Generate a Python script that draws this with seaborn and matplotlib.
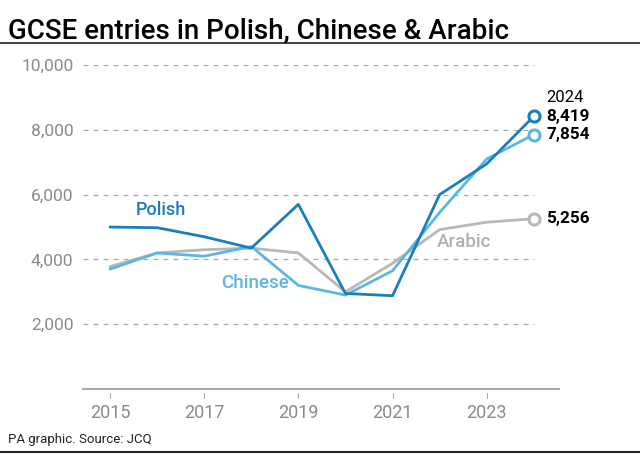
import matplotlib
matplotlib.use("Agg")
import matplotlib.pyplot as plt
import seaborn as sns
import pandas as pd

years = [2015, 2016, 2017, 2018, 2019, 2020, 2021, 2022, 2023, 2024]
polish = [5000, 4980, 4700, 4350, 5700, 2950, 2880, 6000, 6950, 8419]
chinese = [3700, 4200, 4100, 4400, 3200, 2900, 3650, 5450, 7100, 7854]
arabic = [3780, 4200, 4300, 4350, 4200, 3000, 3880, 4920, 5150, 5256]
subjects = ["Arabic", "Chinese", "Polish"]
colors = {"Polish": "#1a7fb8", "Chinese": "#5db6de", "Arabic": "#b8b8b8"}
yticks = [2000, 4000, 6000, 8000, 10000]
xticks = [2015, 2017, 2019, 2021, 2023]

df = pd.concat([
    pd.DataFrame({"year": years, "entries": arabic, "subject": "Arabic"}),
    pd.DataFrame({"year": years, "entries": chinese, "subject": "Chinese"}),
    pd.DataFrame({"year": years, "entries": polish, "subject": "Polish"}),
])

sns.set_theme(style="white")
plt.rcParams["font.family"] = ["Roboto", "DejaVu Sans"]

fig = plt.figure(figsize=(6.4, 4.55), dpi=100)
ax = fig.add_axes([0.13, 0.145, 0.743, 0.712])

x0, x1 = 2014.43, 2024.53
for v in yticks:
    ax.hlines(v, x0, 2024, colors="#aaaaaa", linestyles=(0, (4, 4)), linewidth=0.9, zorder=1)

sns.lineplot(data=df, x="year", y="entries", hue="subject", hue_order=subjects,
             palette=colors, linewidth=2.0, ax=ax, legend=False, zorder=3)

last = df[df["year"] == 2024]
for _, r in last.iterrows():
    ax.plot(r["year"], r["entries"], marker="o", ms=8, mfc="white",
            mec=colors[r["subject"]], mew=2.2, zorder=4, clip_on=False)

ax.set_xlim(x0, x1)
ax.set_ylim(0, 10000)
ax.set_yticks(yticks)
ax.set_yticklabels([f"{v:,}" for v in yticks])
ax.set_xticks(xticks)
ax.set_xticklabels([str(v) for v in xticks])
ax.tick_params(axis="y", length=0, labelsize=12.5, labelcolor="#8a8a8a", pad=7)
ax.tick_params(axis="x", length=0, labelsize=13, labelcolor="#8a8a8a", pad=11, bottom=True)
# small detached tick marks below the baseline
for xt in xticks:
    ax.plot([xt, xt], [-120, -280], color="#aaaaaa", linewidth=0.8, clip_on=False, zorder=2)
for s in ["top", "right", "left"]:
    ax.spines[s].set_visible(False)
ax.spines["bottom"].set_color("#aaaaaa")
ax.spines["bottom"].set_linewidth(1.5)
ax.set_xlabel("")
ax.set_ylabel("")
ax.grid(False)

# series labels
ax.text(2015.55, 5370, "Polish", color=colors["Polish"], fontsize=13, fontweight="medium")
ax.text(2017.35, 3130, "Chinese", color=colors["Chinese"], fontsize=13.5, fontweight="medium")
ax.text(2021.95, 4380, "Arabic", color="#b0b0b0", fontsize=13.5, fontweight="medium")

# end labels
ax.text(2024.27, 8990, "2024", color="black", fontsize=12, va="center", clip_on=False)
ax.text(2024.27, 8419, f"{polish[-1]:,}", color="black", fontsize=12.3, fontweight="bold", va="center", clip_on=False)
ax.text(2024.27, 7854, f"{chinese[-1]:,}", color="black", fontsize=12.3, fontweight="bold", va="center", clip_on=False)
ax.text(2024.27, 5256, f"{arabic[-1]:,}", color="black", fontsize=12.3, fontweight="bold", va="center", clip_on=False)

fig.text(0.0125, 0.962, "GCSE entries in Polish, Chinese & Arabic", fontsize=20,
         fontweight="medium", color="black", va="top", ha="left")
fig.add_artist(plt.Line2D([0, 1], [0.905, 0.905], color="#222222", linewidth=1.2))
fig.text(0.0125, 0.033, "PA graphic. Source: JCQ", fontsize=9.5, color="#222222", va="center", ha="left")
fig.add_artist(plt.Line2D([0, 1], [0.006, 0.006], color="#222222", linewidth=1.5))

fig.savefig("out.png", dpi=100)
